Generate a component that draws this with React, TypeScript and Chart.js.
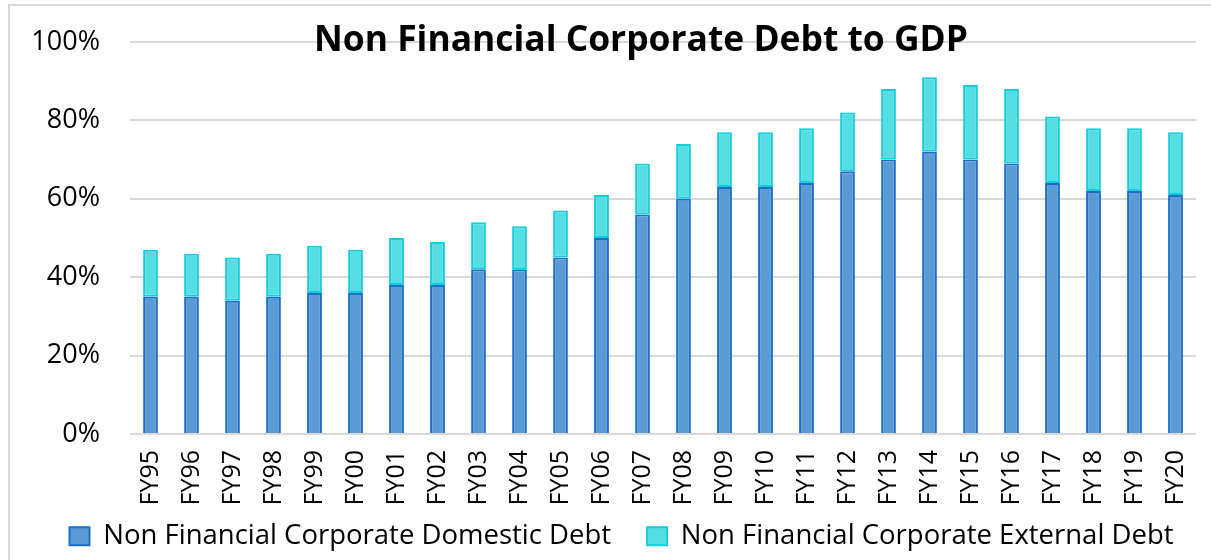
import React, { useEffect, useRef } from "react";
import { Chart, registerables } from "chart.js";

Chart.register(...registerables);

const categories = ["FY95","FY96","FY97","FY98","FY99","FY00","FY01","FY02","FY03","FY04","FY05","FY06","FY07","FY08","FY09","FY10","FY11","FY12","FY13","FY14","FY15","FY16","FY17","FY18","FY19","FY20"];
const domesticDebt = [35,35,34,35,36,36,38,38,42,42,45,50,56,60,63,63,64,67,70,72,70,69,64,62,62,61];
const externalDebt = [12,11,11,11,12,11,12,11,12,11,12,11,13,14,14,14,14,15,18,19,19,19,17,16,16,16];
const yTicks = [0, 20, 40, 60, 80, 100];
const titleText = "Non Financial Corporate Debt to GDP";
const seriesNames = ["Non Financial Corporate Domestic Debt", "Non Financial Corporate External Debt"];

const FONT = '"Open Sans", sans-serif';

export default function App() {
  const ref = useRef<HTMLCanvasElement | null>(null);
  useEffect(() => {
    if (!ref.current) return;
    const overlayPlugin = {
      id: "overlayTitle",
      afterLayout(chart: any) {
        const lg = chart.legend;
        if (lg) {
          lg.left = 32;
          lg.right = 1211;
          lg.width = lg.right - lg.left;
        }
        const xs = chart.scales.x;
        xs.bottom = 560;
        xs.height = xs.bottom - xs.top;
      },
      afterDraw(chart: any) {
        const ctx = chart.ctx;
        ctx.save();
        ctx.font = `bold 35.4px ${FONT}`;
        ctx.fillStyle = "#000";
        ctx.textAlign = "center";
        ctx.textBaseline = "alphabetic";
        ctx.fillText(titleText, 641, 51);
        ctx.restore();
      },
    };
    const chart = new Chart(ref.current, {
      type: "bar",
      data: {
        labels: categories,
        datasets: [
          {
            label: seriesNames[0],
            data: domesticDebt,
            backgroundColor: "#5b9bd5",
            borderColor: "#1c6fc8",
            borderWidth: 2,
            borderSkipped: "bottom",
            barPercentage: 0.36,
            categoryPercentage: 1,
          },
          {
            label: seriesNames[1],
            data: externalDebt,
            backgroundColor: "#54dee4",
            borderColor: "#14cdd9",
            borderWidth: 2,
            borderSkipped: false,
            barPercentage: 0.36,
            categoryPercentage: 1,
          },
        ],
      },
      options: {
        responsive: false,
        animation: false,
        layout: { padding: { top: 42, left: 10, right: 15, bottom: 0 } },
        plugins: {
          legend: {
            position: "bottom",
            labels: {
              font: { family: FONT, size: 27.5 },
              color: "#000",
              boxWidth: 20,
              boxHeight: 18,
              padding: 36,
            },
          },
          title: { display: false },
          tooltip: { enabled: false },
        },
        scales: {
          x: {
            stacked: true,
            grid: { display: false, drawTicks: false },
            border: { display: false },
            ticks: {
              font: { family: FONT, size: 25 },
              color: "#000",
              minRotation: 90,
              maxRotation: 90,
              padding: 16,
              autoSkip: false,
            },
            afterFit(scale: any) {
              scale.height = 52.5;
              scale.paddingLeft = 0;
              scale.paddingRight = 0;
            },
          },
          y: {
            stacked: true,
            min: 0,
            max: 100,
            afterBuildTicks(scale: any) {
              scale.ticks = yTicks.map((v) => ({ value: v }));
            },
            grid: { color: "#d9d9d9", lineWidth: 2, drawTicks: false },
            border: { display: false },
            ticks: {
              font: { family: FONT, size: 27 },
              color: "#000",
              padding: 30,
              callback: (v: any) => `${v}%`,
            },
            afterFit(scale: any) {
              scale.width = 120;
              scale.paddingTop = 0;
              scale.paddingBottom = 0;
            },
          },
        },
      },
      plugins: [overlayPlugin],
    });
    return () => chart.destroy();
  }, []);
  return (
    <div style={{ position: "absolute", left: 0, top: 0, width: 1211, height: 560, overflow: "hidden", background: "#fff" }}>
      <div style={{ position: "absolute", left: 8, top: 4, width: 1400, height: 800, border: "2px solid #d9d9d9" }} />
      <canvas ref={ref} width={1211} height={560} style={{ position: "absolute", left: 0, top: 0 }} />
    </div>
  );
}
